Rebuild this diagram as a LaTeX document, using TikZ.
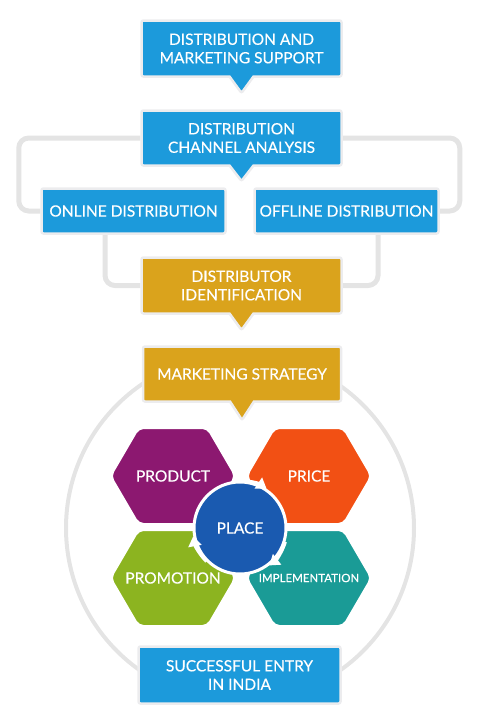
\documentclass[tikz,border=0pt]{standalone}
\usepackage{fontspec}
\setmainfont{Lato}
\newfontfamily\boxfont{Lato}[FakeBold=0.3]
\usepackage{tikz}
\usetikzlibrary{shapes.callouts}
\usetikzlibrary{arrows.meta}
\usetikzlibrary{backgrounds}
\definecolor{boxblue}{RGB}{28,154,219}
\definecolor{boxgold}{RGB}{218,163,28}
\definecolor{hexpurple}{RGB}{140,24,112}
\definecolor{hexorange}{RGB}{242,80,20}
\definecolor{hexgreen}{RGB}{140,180,32}
\definecolor{hexteal}{RGB}{26,155,150}
\definecolor{placeblue}{RGB}{26,90,176}
\definecolor{linegray}{RGB}{228,228,228}
\definecolor{boxedge}{RGB}{236,236,238}

\begin{document}
\begin{tikzpicture}[x=1pt,y=1pt,
  box/.style={rectangle, rounded corners=2pt, draw=boxedge, line width=2.5pt, text=white, align=center, font=\boxfont\fontsize{15.5}{18.5}\selectfont, inner sep=0pt},
  callbox/.style={box, rectangle callout, callout pointer width=24pt},
  bracket/.style={draw=linegray, line width=5pt, rounded corners=10pt},
  hexa/.style={draw=white, line width=2pt, rounded corners=5pt},
  hexlabel/.style={text=white, font=\boxfont\fontsize{15.5}{18.5}\selectfont}]
\useasboundingbox (0,0) rectangle (480,-721);
\node[callbox, fill=boxblue, minimum width=200pt, minimum height=56pt, callout absolute pointer={(241.5,-93)}] (support) at (241.5,-48.5) {DISTRIBUTION AND\\MARKETING SUPPORT};
\node[callbox, fill=boxblue, minimum width=200pt, minimum height=55pt, callout absolute pointer={(241.5,-181)}] (analysis) at (241.5,-138) {DISTRIBUTION\\CHANNEL ANALYSIS};
\node[box, fill=boxblue, minimum width=184pt, minimum height=45pt] (online) at (133.5,-211) {ONLINE DISTRIBUTION};
\node[box, fill=boxblue, minimum width=184pt, minimum height=45pt] (offline) at (346.5,-211) {OFFLINE DISTRIBUTION};
\node[callbox, fill=boxgold, minimum width=200pt, minimum height=56pt, callout absolute pointer={(241.5,-330)}] (distributor) at (241.5,-285.5) {DISTRIBUTOR\\IDENTIFICATION};
\node[callbox, fill=boxgold, minimum width=198pt, minimum height=55pt, callout absolute pointer={(242,-420)}] (strategy) at (242,-374) {MARKETING STRATEGY};
\foreach \cx/\cy/\col/\nm/\txt/\fs in {173/476/hexpurple/product/PRODUCT/15.5, 309/476/hexorange/price/PRICE/15.5, 173/578/hexgreen/promotion/PROMOTION/15.5, 309/578/hexteal/implementation/IMPLEMENTATION/11.5}
{
\filldraw[hexa, fill=\col] (\cx-62.5,-\cy) -- ++(28,48) -- ++(69,0) -- ++(28,-48) -- ++(-28,-48) -- ++(-69,0) -- cycle;
\node[hexlabel, font=\boxfont\fontsize{\fs}{\fs}\selectfont] (\nm) at (\cx,-\cy) {\txt};
}
\node[circle, fill=placeblue, draw=white, line width=3pt, minimum size=92pt, text=white, font=\boxfont\fontsize{15.5}{18.5}\selectfont] (place) at (240,-528) {PLACE};
\foreach \a in {56,-52,-170}
\draw[white, line width=3pt, -{Triangle[width=13pt,length=10pt]}] ([shift={(\a+35:47.5pt)}]place.center) arc[start angle=\a+35, end angle=\a, radius=47.5pt];
\node[box, fill=boxblue, minimum width=202pt, minimum height=57pt] (entry) at (239.5,-675) {SUCCESSFUL ENTRY\\IN INDIA};
\begin{scope}[on background layer]
\draw[bracket] (analysis.west) -- ++(-121.5,0) |- (online.west);
\draw[bracket] (analysis.east) -- ++(117,0) |- (offline.east);
\draw[bracket] ([xshift=-28.5pt]online.south) |- (distributor.west);
\draw[bracket] ([xshift=31.5pt]offline.south) |- (distributor.east);
\draw[linegray, line width=4pt] (place.center) circle[radius=174pt];
\end{scope}
\end{tikzpicture}
\end{document}
